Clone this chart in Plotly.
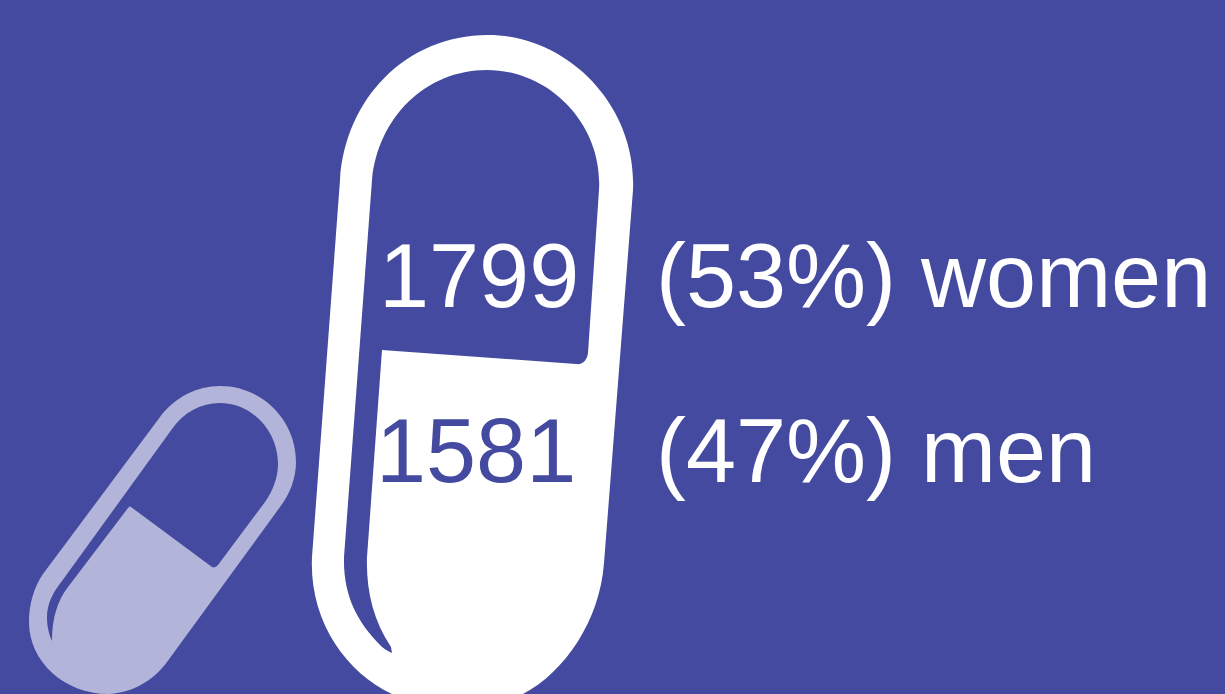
import plotly.graph_objects as go

groups = ["women", "men"]
counts = [1799, 1581]
shares = [53, 47]

BG = "#444a9f"
PALE = "#b2b5d9"
WHITE = "#ffffff"
FONT = "Liberation Sans"
SIZE = 90

big_outer = ("M 340 180 C 345 99 406 35 488 35 C 568 35 637 106 633 190 "
             "L 604 563 C 600 620 565 672 523 694 L 523 720 L 392 720 L 392 694 "
             "C 345 672 309 620 312 557 Z")
big_hole = ("M 372 180 C 378 118 425 70 487 70 C 549 70 603 124 599 190 "
            "L 588 353 C 587 360 583 365 576 364 L 382 350 L 367 557 "
            "C 366 590 373 620 391 647 L 392 653 C 386 650 383 648 381 646 "
            "C 357 622 343 595 344 557 Z")
small_outer = ("M 160 417 C 175 397 197 386 220 386 C 262 386 296 420 296 462 "
               "C 296 478 290 494 280 507 L 167 662 C 153 681 132 693 108 694 "
               "C 65 694 29 662 29 622 C 29 604 34 587 43 574 Z")
small_hole = ("M 172 429 C 184 412 201 403 220 403 C 252 403 278 431 278 464 "
              "C 278 477 273 491 265 502 L 218 565 C 216 567 214 568 212 567 "
              "L 131 507 C 130 506 129 507 128 508 L 68 587 C 58 600 52 617 52 641 "
              "C 48 632 47 624 47 617 C 47 604 53 592 62 581 Z")

fig = go.Figure()

for i, group in enumerate(groups):
    y = [284, 459][i]
    fig.add_trace(go.Scatter(
        x=[[379, 376][i]], y=[y], mode="text", text=[str(counts[i])],
        textposition="middle right",
        textfont=dict(family=FONT, size=SIZE, color=[WHITE, BG][i]),
        hoverinfo="skip", showlegend=False, cliponaxis=False))
    fig.add_trace(go.Scatter(
        x=[656], y=[y], mode="text", text=[f"({shares[i]}%) {group}"],
        textposition="middle right",
        textfont=dict(family=FONT, size=SIZE, color=WHITE),
        hoverinfo="skip", showlegend=False, cliponaxis=False))


def shape(path, color):
    return dict(type="path", path=path, fillcolor=color, line=dict(width=0),
                xref="x", yref="y", layer="below")


fig.update_layout(
    width=1225, height=694, autosize=False,
    margin=dict(l=0, r=0, t=0, b=0),
    paper_bgcolor=BG, plot_bgcolor=BG,
    showlegend=False,
    xaxis=dict(range=[0, 1225], visible=False, fixedrange=True),
    yaxis=dict(range=[694, 0], visible=False, fixedrange=True),
    shapes=[shape(small_outer, PALE), shape(small_hole, BG),
            shape(big_outer, WHITE), shape(big_hole, BG)],
)

fig.write_html("out.html", config={"displayModeBar": False},
               post_script="document.body.style.margin='0';"
                           "document.documentElement.style.overflow='hidden';"
                           f"document.body.style.background='{BG}';")
